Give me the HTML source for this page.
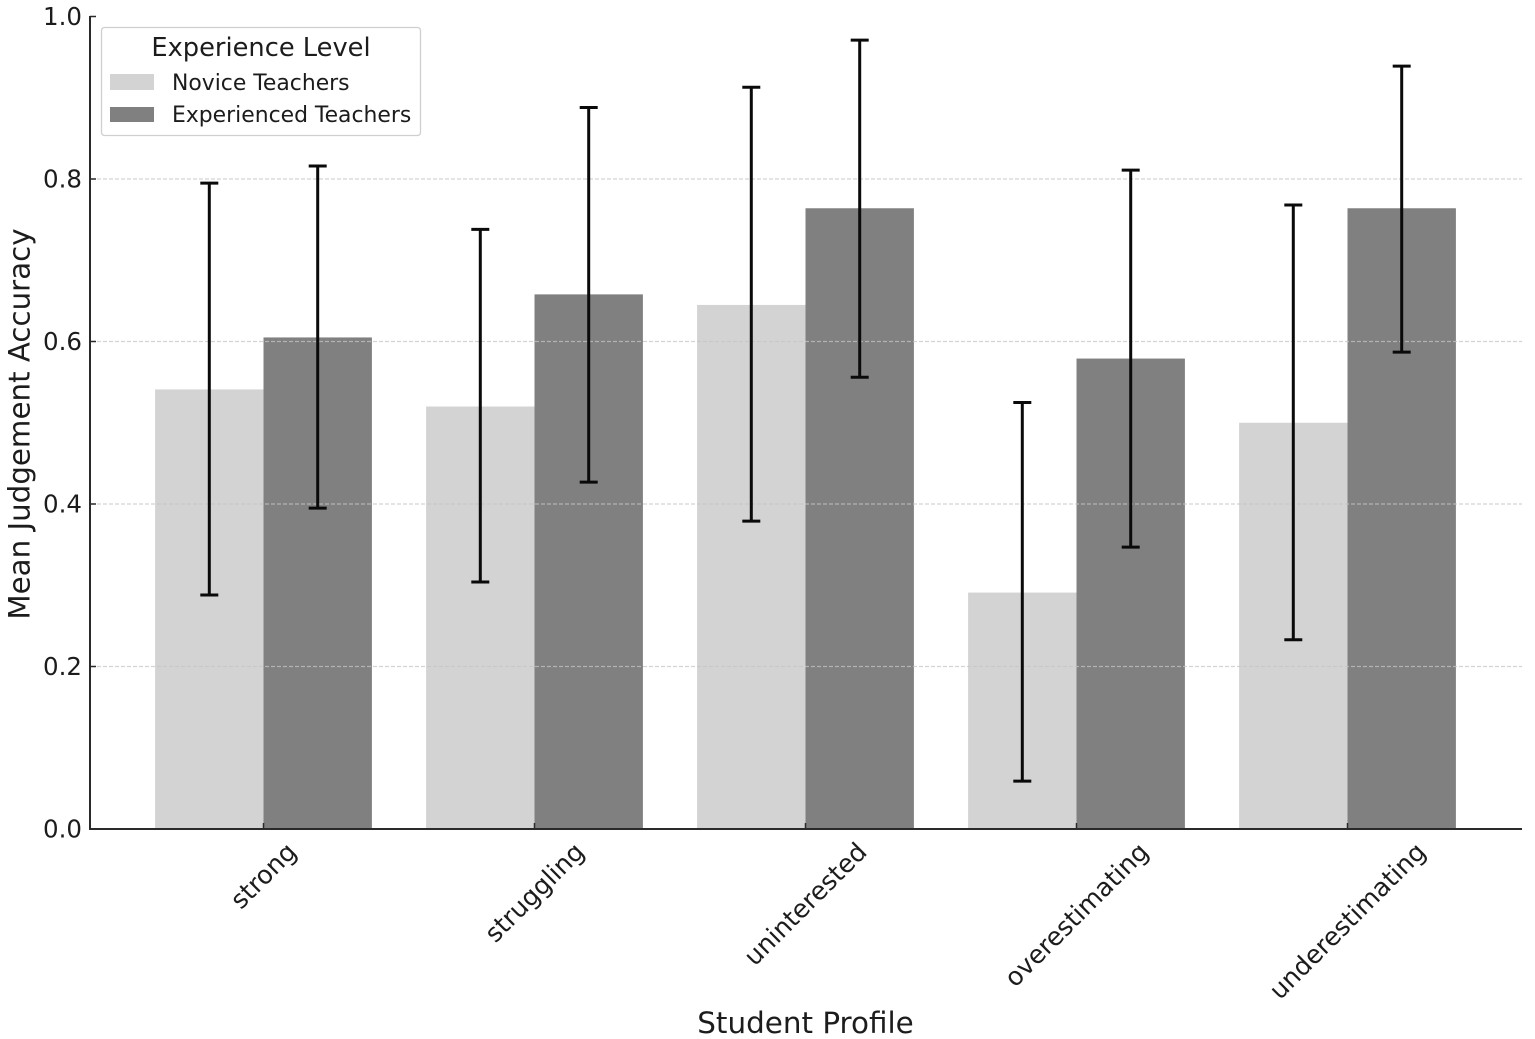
<!DOCTYPE html>
<html lang="en">
<head>
<meta charset="utf-8">
<title>Mean Judgement Accuracy by Student Profile</title>
<style>
html,body{margin:0;padding:0;background:#fff;width:1535px;height:1039px;overflow:hidden}
svg{display:block;font-family:"DejaVu Sans","Liberation Sans",sans-serif;fill:#1c1c1c}
</style>
</head>
<body>
<svg id="chart" xmlns="http://www.w3.org/2000/svg" width="1535" height="1039" viewBox="0 0 1535 1039">
<g id="bars"></g>
<g id="grid"></g>
<g id="errors"></g>
<g id="axes"></g>
<text x="0" y="0" transform="translate(29.5 424) rotate(-90)" text-anchor="middle" font-size="29.3">Mean Judgement Accuracy</text>
<text x="805.5" y="1033" text-anchor="middle" font-size="29.4">Student Profile</text>
<g>
<rect x="101.5" y="27.5" width="319" height="108" rx="3" fill="#fff" stroke="#cfcfcf" stroke-width="1.3"/>
<text x="261" y="56" text-anchor="middle" font-size="25.7">Experience Level</text>
<rect x="110" y="74" width="44" height="16" fill="#d3d3d3"/>
<text x="172" y="90" font-size="21.9">Novice Teachers</text>
<rect x="110" y="107" width="44" height="15" fill="#808080"/>
<text x="172" y="122" font-size="21.9">Experienced Teachers</text>
</g>
</svg>
<script>
const categories = ["strong", "struggling", "uninterested", "overestimating", "underestimating"];
const noviceMeans = [0.541, 0.520, 0.645, 0.291, 0.500];
const experiencedMeans = [0.605, 0.658, 0.764, 0.579, 0.764];
const noviceLow = [0.288, 0.304, 0.379, 0.059, 0.233];
const noviceHigh = [0.795, 0.738, 0.913, 0.525, 0.768];
const experiencedLow = [0.395, 0.427, 0.556, 0.347, 0.587];
const experiencedHigh = [0.816, 0.888, 0.971, 0.811, 0.939];
const yTicks = [0, 0.2, 0.4, 0.6, 0.8, 1.0];
const yTickLabels = ["0.0", "0.2", "0.4", "0.6", "0.8", "1.0"];

const NS = 'http://www.w3.org/2000/svg';
const yScale = v => 829 - 812.5 * v;
const xScale = i => 263.5 + 271 * i;
const barWidth = 108.4;

function make(parent, tag, attrs) {
  const el = document.createElementNS(NS, tag);
  for (const k in attrs) el.setAttribute(k, attrs[k]);
  parent.appendChild(el);
  return el;
}

const barsG = document.getElementById('bars');
const gridG = document.getElementById('grid');
const errorsG = document.getElementById('errors');
const axesG = document.getElementById('axes');

function drawBar(i, value, offset, color, label) {
  const top = yScale(value);
  const el = make(barsG, 'rect', {x: xScale(i) + offset, y: top, width: barWidth, height: yScale(0) - top, fill: color});
  
  
}

function drawError(i, low, high, offset, label) {
  const cx = xScale(i) + offset + barWidth / 2;
  const g = make(errorsG, 'g', {stroke: '#0a0a0a', 'stroke-width': 3, fill: 'none'});
  
  
  make(g, 'line', {x1: cx, x2: cx, y1: yScale(low), y2: yScale(high)});
  make(g, 'line', {x1: cx - 9, x2: cx + 9, y1: yScale(low), y2: yScale(low)});
  make(g, 'line', {x1: cx - 9, x2: cx + 9, y1: yScale(high), y2: yScale(high)});
}

categories.forEach((name, i) => {
  drawBar(i, noviceMeans[i], -barWidth, '#d3d3d3', 'bar-novice-' + name);
  drawBar(i, experiencedMeans[i], 0, '#808080', 'bar-experienced-' + name);
});

yTicks.forEach((t, i) => {
  const y = yScale(t);
  if (t > 0 && t < 1) {
    const line = make(gridG, 'line', {x1: 91, x2: 1522, y1: y, y2: y, stroke: '#c4c4c4', 'stroke-opacity': 0.75, 'stroke-width': 1.2, 'stroke-dasharray': '4 2'});
    
    
  }
  const tick = make(axesG, 'line', {x1: 90, x2: 96, y1: y, y2: y, stroke: '#2a2a2a', 'stroke-width': 1.5});
  
  
  const label = make(axesG, 'text', {x: 82, y: y + 8.5, 'text-anchor': 'end', 'font-size': 24.5});
  
  
  label.textContent = yTickLabels[i];
});

categories.forEach((name, i) => {
  drawError(i, noviceLow[i], noviceHigh[i], -barWidth, 'error-novice-' + name);
  drawError(i, experiencedLow[i], experiencedHigh[i], 0, 'error-experienced-' + name);
  const tick = make(axesG, 'line', {x1: xScale(i), x2: xScale(i), y1: 823, y2: 829, stroke: '#2a2a2a', 'stroke-width': 1.5});
  
  
  const label = make(axesG, 'text', {'text-anchor': 'middle', 'dominant-baseline': 'central', 'font-size': 25.3});
  
  
  label.textContent = name;
  const len = label.getComputedTextLength();
  const cy = 838.5 + (len + 25) * Math.SQRT1_2 / 2;
  label.setAttribute('transform', 'translate(' + xScale(i) + ' ' + cy + ') rotate(-45)');
});

const spineY = make(axesG, 'line', {x1: 90, x2: 90, y1: 16, y2: 830, stroke: '#2a2a2a', 'stroke-width': 2});


const spineX = make(axesG, 'line', {x1: 89, x2: 1522, y1: 829, y2: 829, stroke: '#2a2a2a', 'stroke-width': 2});


</script>
</body>
</html>
